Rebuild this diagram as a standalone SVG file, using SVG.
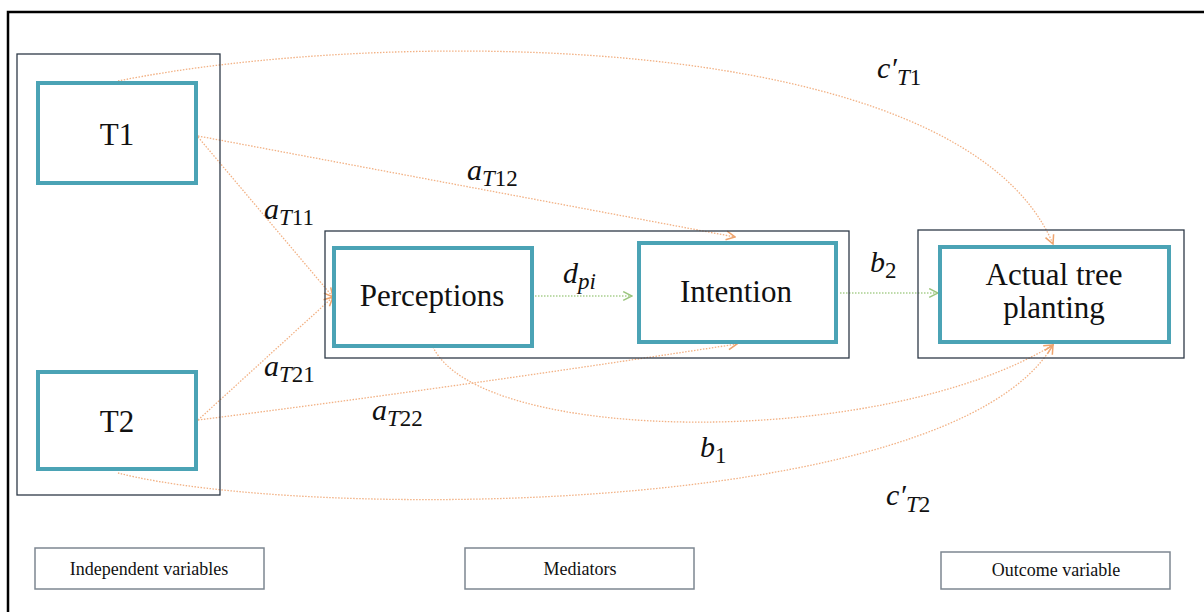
<svg xmlns="http://www.w3.org/2000/svg" width="1204" height="612" viewBox="0 0 1204 612">
<style>
.frame{fill:none;stroke:#000;stroke-width:2.5}
.cont{fill:none;stroke:#2e3a48;stroke-width:1.3}
.node{fill:none;stroke:#4ba3b5;stroke-width:4}
.leg{fill:none;stroke:#7d8791;stroke-width:1.5}
text{font-family:'Liberation Serif','Times New Roman','DejaVu Serif',serif;fill:#111}
.nt{font-size:31px;text-anchor:middle}
.lt{font-size:18px;text-anchor:middle}
.m{font-size:30px;font-style:italic}
.s{font-size:23px;font-style:italic}
.sn{font-size:23px;font-style:normal}
.co{fill:none;stroke:#f2b184;stroke-width:1.3;stroke-dasharray:1.5 1.5}
.cg{fill:none;stroke:#a9cf8f;stroke-width:1.3;stroke-dasharray:1.5 1.5}
</style>
<defs>
<marker id="ao" viewBox="0 0 10 10" refX="9" refY="5" markerWidth="11" markerHeight="11" markerUnits="userSpaceOnUse" orient="auto">
<path d="M1,1 L9,5 L1,9" fill="none" stroke="#eea46e" stroke-width="1.4"/>
</marker>
<marker id="ag" viewBox="0 0 10 10" refX="9" refY="5" markerWidth="11" markerHeight="11" markerUnits="userSpaceOnUse" orient="auto">
<path d="M1,1 L9,5 L1,9" fill="none" stroke="#9cc67f" stroke-width="1.4"/>
</marker>
</defs>
<rect class="frame" x="8" y="12" width="1210" height="620"/>
<g id="connectors">
<path class="co" d="M118,81 C380,28 960,25 1053,244" marker-end="url(#ao)"/>
<path class="co" d="M198,136 L735,237" marker-end="url(#ao)"/>
<path class="co" d="M198,137 L333,297" marker-end="url(#ao)"/>
<path class="co" d="M198,420 L333,297" marker-end="url(#ao)"/>
<path class="co" d="M198,420 Q450,388 737,344" marker-end="url(#ao)"/>
<path class="cg" d="M535,296 L632,296" marker-end="url(#ag)"/>
<path class="cg" d="M840,293 L938,293" marker-end="url(#ag)"/>
<path class="co" d="M433,347 C480,445 880,450 1053,345" marker-end="url(#ao)"/>
<path class="co" d="M118,473 C300,520 950,520 1053,345" marker-end="url(#ao)"/>
<text class="m" x="877" y="78">c′<tspan class="s" dy="7">T</tspan><tspan class="sn">1</tspan></text>
<text class="m" x="467" y="180">a<tspan class="s" dy="6">T</tspan><tspan class="sn">12</tspan></text>
<text class="m" x="264" y="219">a<tspan class="s" dy="6">T</tspan><tspan class="sn">11</tspan></text>
<text class="m" x="264" y="376">a<tspan class="s" dy="6">T</tspan><tspan class="sn">21</tspan></text>
<text class="m" x="372" y="420">a<tspan class="s" dy="6">T</tspan><tspan class="sn">22</tspan></text>
<text class="m" x="563" y="283">d<tspan class="s" dy="6">pi</tspan></text>
<text class="m" x="870" y="272">b<tspan class="sn" dy="6">2</tspan></text>
<text class="m" x="700" y="457">b<tspan class="sn" dy="6">1</tspan></text>
<text class="m" x="886" y="505">c′<tspan class="s" dy="7">T</tspan><tspan class="sn">2</tspan></text>
</g>
<g id="independent">
<rect class="cont" x="17" y="54" width="203" height="441"/>
</g>
<g id="T1">
<rect class="node" x="38" y="83" width="158" height="100"/>
<text class="nt" x="117" y="145">T1</text>
</g>
<g id="T2">
<rect class="node" x="38" y="372" width="158" height="97"/>
<text class="nt" x="117" y="432">T2</text>
</g>
<g id="mediators">
<rect class="cont" x="325" y="231" width="524" height="127"/>
</g>
<g id="perceptions">
<rect class="node" x="334" y="248" width="198" height="98"/>
<text class="nt" x="432" y="306">Perceptions</text>
</g>
<g id="intention">
<rect class="node" x="639" y="243" width="197" height="99"/>
<text class="nt" x="736" y="302">Intention</text>
</g>
<g id="outcome">
<rect class="cont" x="918" y="230" width="266" height="128"/>
</g>
<g id="actual">
<rect class="node" x="940" y="247" width="229" height="95"/>
<text class="nt" x="1054" y="285">Actual tree</text>
<text class="nt" x="1054" y="318">planting</text>
</g>
<g id="legend-independent">
<rect class="leg" x="35" y="548" width="229" height="41"/>
<text class="lt" x="149" y="575">Independent variables</text>
</g>
<g id="legend-mediators">
<rect class="leg" x="465" y="548" width="229" height="41"/>
<text class="lt" x="580" y="575">Mediators</text>
</g>
<g id="legend-outcome">
<rect class="leg" x="941" y="552" width="229" height="37"/>
<text class="lt" x="1056" y="576">Outcome variable</text>
</g>
</svg>
